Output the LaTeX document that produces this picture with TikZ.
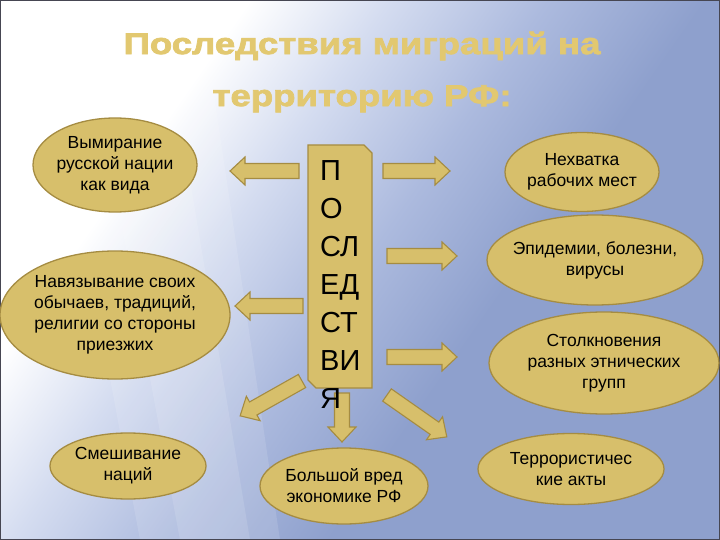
\documentclass[tikz,border=0pt]{standalone}
\usepackage{fontspec}
\setmainfont{Liberation Sans}
\newfontfamily\titlefont{Liberation Sans}[FakeStretch=1.22,FakeBold=2.5]
\usetikzlibrary{shapes.geometric}
\definecolor{gold}{RGB}{215,191,107}
\definecolor{golddark}{RGB}{165,140,66}
\definecolor{titlegold}{RGB}{226,200,112}
\definecolor{bgl}{RGB}{212,220,240}
\definecolor{bgm}{RGB}{172,186,222}
\definecolor{bgb}{RGB}{142,160,205}
\definecolor{framec}{RGB}{70,70,82}
\pgfdeclarehorizontalshading{bgsh}{100bp}{color(0bp)=(white); color(31bp)=(white); color(40bp)=(bgl); color(50bp)=(bgm); color(60bp)=(bgb); color(100bp)=(bgb)}
\newcommand\barrow[5]{%
  \begin{scope}[shift={(#2,#3)}, rotate=#4]
    \draw[barrowstyle] (0,7.5) -- (#5-15,7.5) -- (#5-15,14) -- (#5,0) -- (#5-15,-14) -- (#5-15,-7.5) -- (0,-7.5) -- cycle;
    \coordinate (#1) at (#5/2,0);
  \end{scope}}
\begin{document}
\begin{tikzpicture}[x=1pt,y=-1pt,
  cons/.style={ellipse, fill=gold, draw=golddark, line width=1.3pt, inner xsep=-20pt, inner ysep=-8pt,
    align=center, font=\fontsize{17.5}{21}\selectfont},
  barrowstyle/.style={fill=gold, draw=golddark, line width=1.1pt, line join=miter}]
\useasboundingbox (0,0) rectangle (720,540);
\shade[shading=bgsh, shading angle=-35] (0,0) rectangle (720,540);
\fill[white, opacity=0.12] (40,0) -- (200,0) -- (280,540) -- (140,540) -- cycle;
\fill[white, opacity=0.12] (80,0) -- (160,0) -- (250,540) -- (180,540) -- cycle;
\draw[framec, line width=2pt] (0,0) rectangle (720,540);

\node[font=\titlefont\bfseries\fontsize{30}{52}\selectfont, text=titlegold, align=center] (title) at (362,72)
  {Последствия миграций на\\территорию РФ:};

% arrows
\barrow{a1}{299}{171}{180}{69}
\barrow{a2}{303}{306}{180}{68}
\barrow{a3}{383}{171}{0}{67}
\barrow{a4}{387}{256}{0}{70}
\barrow{a5}{387}{357}{0}{70}
\barrow{a6}{302}{381}{209.4}{71}
\barrow{a7}{342}{393}{270}{49}
\barrow{a8}{387}{395}{-35}{73}

% central box
\draw[fill=gold, draw=golddark, line width=1.2pt] (308,145) -- (364,145) -- (372,153) -- (372,388) -- (316,388) -- (308,380) -- cycle;
\node[anchor=north west, inner sep=0pt, align=left, font=\fontsize{29}{38}\selectfont] (posl) at (320,160)
  {П\\О\\СЛ\\ЕД\\СТ\\ВИ\\Я};

% consequences
\node[cons, minimum width=164pt, minimum height=94pt] (e1) at (115,165) {Вымирание\\русской нации\\как вида};
\node[cons, minimum width=230pt, minimum height=128pt] (e2) at (115,315) {Навязывание своих\\обычаев, традиций,\\религии со стороны\\приезжих};
\node[cons, minimum width=156pt, minimum height=66pt] (e3) at (128,466) {Смешивание\\наций};
\node[cons, minimum width=168pt, minimum height=76pt] (e4) at (344,486) {Большой вред\\экономике РФ};
\node[cons, minimum width=186pt, minimum height=71pt] (e5) at (571,469) {Террористичес\\кие акты};
\node[cons, minimum width=230pt, minimum height=102pt] (e6) at (604,363) {Столкновения\\разных этнических\\групп};
\node[cons, minimum width=216pt, minimum height=90pt] (e7) at (595,260) {Эпидемии, болезни,\\вирусы};
\node[cons, minimum width=154pt, minimum height=79pt] (e8) at (582,172) {Нехватка\\рабочих мест};
\end{tikzpicture}
\end{document}
